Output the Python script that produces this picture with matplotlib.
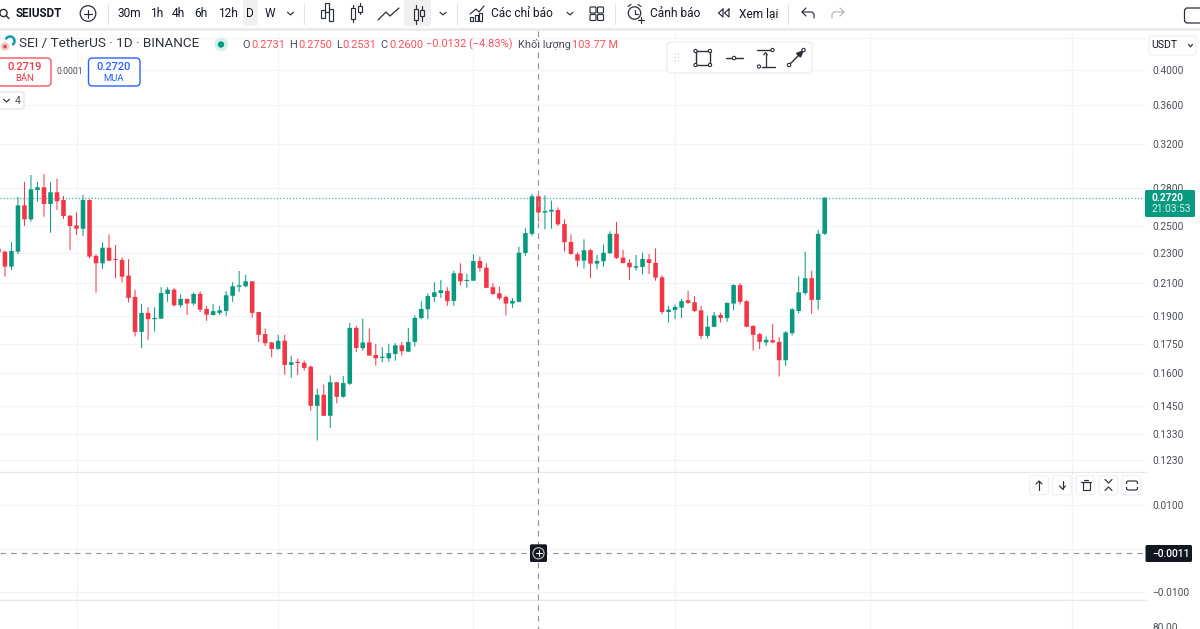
"""
SEIUSDT 1D candle chart, TradingView screen layout
"""
import numpy as np
import matplotlib
matplotlib.use("Agg")
import matplotlib.pyplot as plt
from matplotlib.patches import Circle, FancyBboxPatch, Rectangle, Arc
from matplotlib.ticker import NullLocator, FixedLocator, FixedFormatter

plt.rcParams["font.family"] = ["Roboto", "DejaVu Sans"]

# ---------- data ----------
opens = [.2331, .2310, .2208, .2310, .2657, .2547, .2783, .2806, .2668, .2764, .2700, .2575, .2501, .2476, .2700, .2281,
         .2230, .2338, .2260, .2253, .2149, .2015, .1813, .1920, .1884, .1887, .2033, .2060, .1965, .2003, .1975, .2033,
         .1943, .1908, .1920, .1931, .2022, .2078, .2081, .2112, .1925, .1801, .1756, .1722, .1765, .1641, .1656, .1651,
         .1632, .1450, .1499, .1407, .1557, .1490, .1550, .1835, .1726, .1756, .1691, .1676, .1674, .1696, .1741, .1708,
         .1759, .1890, .1941, .2015, .2039, .2052, .1991, .2164, .2114, .2116, .2246, .2201, .2075, .2037, .2015, .1975,
         .1985, .2301, .2438, .2731, .2600, .2607, .2620, .2511, .2379, .2292, .2248, .2320, .2228, .2244, .2299, .2438,
         .2269, .2234, .2201, .2206, .2258, .2234, .2138, .1925, .1937, .1951, .1995, .1983, .1935, .1791, .1841, .1908,
         .1890, .1975, .2088, .1989, .1846, .1801, .1756, .1768, .1759, .1664, .1806, .1931, .2039, .2132, .1997, .2438]
highs = [.2338, .2315, .2377, .2727, .2853, .2912, .2853, .2920, .2848, .2882, .2733, .2581, .2602, .2741, .2706, .2292,
         .2377, .2434, .2357, .2271, .2258, .2058, .1973, .1953, .1953, .2075, .2075, .2069, .2031, .2003, .2041, .2050,
         .1961, .1973, .1961, .2050, .2106, .2179, .2153, .2114, .1925, .1831, .1759, .1797, .1796, .1687, .1671, .1662,
         .1637, .1527, .1546, .1589, .1557, .1587, .1862, .1846, .1887, .1831, .1749, .1731, .1749, .1752, .1759, .1833,
         .1905, .1989, .2037, .2106, .2121, .2075, .2181, .2230, .2160, .2292, .2276, .2230, .2100, .2078, .2023, .2009,
         .2345, .2479, .2750, .2750, .2739, .2695, .2641, .2547, .2434, .2306, .2398, .2331, .2287, .2362, .2456, .2527,
         .2322, .2258, .2287, .2303, .2294, .2333, .2151, .1961, .1969, .2003, .2052, .2020, .1961, .1903, .1925, .1921,
         .1981, .2094, .2100, .1995, .1850, .1806, .1788, .1858, .1784, .1817, .1947, .2144, .2310, .2181, .2466, .2720]
lows = [.2300, .2142, .2186, .2294, .2496, .2529, .2686, .2568, .2446, .2620, .2550, .2322, .2429, .2422, .2264, .2041,
        .2193, .2246, .2132, .2106, .1981, .1788, .1726, .1770, .1815, .1885, .1985, .1957, .1951, .1908, .1963, .1925,
        .1874, .1905, .1908, .1903, .1985, .2045, .2075, .1893, .1758, .1738, .1680, .1717, .1592, .1578, .1592, .1613,
        .1429, .1306, .1407, .1356, .1461, .1486, .1545, .1705, .1712, .1687, .1637, .1654, .1657, .1662, .1688, .1706,
        .1734, .1884, .1884, .1985, .2009, .1961, .1961, .2087, .2071, .2114, .2175, .2069, .2027, .1995, .1905, .1949,
        .1983, .2281, .2424, .2531, .2471, .2476, .2496, .2310, .2289, .2208, .2195, .2132, .2190, .2208, .2297, .2260,
        .2230, .2121, .2181, .2156, .2160, .2116, .1914, .1865, .1884, .1891, .1973, .1925, .1774, .1777, .1839, .1865,
        .1869, .1935, .1969, .1839, .1713, .1721, .1738, .1752, .1584, .1636, .1793, .1916, .2025, .1914, .1939, .2430]
closes = [.2306, .2208, .2315, .2657, .2547, .2789, .2806, .2668, .2764, .2690, .2573, .2496, .2476, .2700, .2276, .2230,
          .2338, .2248, .2253, .2142, .2009, .1813, .1920, .1884, .1891, .2039, .2060, .1965, .2003, .1975, .2033, .1939,
          .1910, .1930, .1935, .2025, .2081, .2087, .2112, .1920, .1797, .1752, .1722, .1765, .1641, .1654, .1650, .1626,
          .1450, .1499, .1407, .1557, .1490, .1553, .1835, .1727, .1756, .1688, .1674, .1681, .1700, .1741, .1710, .1759,
          .1891, .1943, .2020, .2043, .2056, .1989, .2164, .2112, .2121, .2246, .2199, .2071, .2033, .2006, .1975, .1991,
          .2303, .2443, .2731, .2600, .2612, .2622, .2509, .2377, .2294, .2248, .2320, .2228, .2246, .2303, .2438, .2267,
          .2232, .2204, .2211, .2260, .2232, .2136, .1925, .1939, .1955, .1989, .1979, .1931, .1791, .1841, .1905, .1890,
          .1979, .2088, .1985, .1841, .1797, .1759, .1770, .1756, .1664, .1810, .1941, .2043, .2132, .1997, .2438, .2720]

price_ticks = [0.44, 0.40, 0.36, 0.32, 0.28, 0.25, 0.23, 0.21, 0.19, 0.175, 0.16, 0.145, 0.133, 0.123]
price_labels = ["", "0.4000", "0.3600", "0.3200", "0.2800", "0.2500", "0.2300", "0.2100", "0.1900", "0.1750",
                "0.1600", "0.1450", "0.1330", "0.1230"]
osc_ticks = [0.01, 0.0, -0.01]
osc_labels = ["0.0100", "", "−0.0100"]
month_bars = [12, 43, 73, 104, 134, 165]
last_price = 0.2720
osc_cursor = -0.0011
cross_bar = 83

# ---------- colours ----------
GREEN = "#089981"
RED = "#F23645"
GRID = "#F3F4F8"
SEP = "#E6E8EE"
TEXT = "#131722"
AXIS_TEXT = "#4A4E59"
ICON = "#2A2E39"

W, H = 1200, 629
BAR_STEP = 6.506
BAR_X0 = -1.56
PLOT_RIGHT = 1146
MAIN_TOP, MAIN_BOTTOM = 32, 471
OSC_BOTTOM = 599

fig = plt.figure(figsize=(W / 100, H / 100), dpi=100, facecolor="white")


def pane(top, bottom):
    a = fig.add_axes([0, 1 - bottom / H, PLOT_RIGHT / W, (bottom - top) / H])
    a.set_xlim(-BAR_X0 / BAR_STEP, (PLOT_RIGHT - BAR_X0) / BAR_STEP)
    a.yaxis.tick_right()
    a.tick_params(axis="y", length=0, pad=4.4, labelsize=7.3, labelcolor=AXIS_TEXT)
    a.tick_params(axis="x", length=0, labelbottom=False)
    for s in a.spines.values():
        s.set_visible(False)
    a.set_xticks(month_bars)
    a.grid(True, color=GRID, linewidth=0.9)
    a.set_axisbelow(True)
    return a


def price_at(y):
    # 对数坐标：0.28 在 y=188，每个 ln 单位 331 像素
    return 0.28 * np.exp((188 - y) / 331)


# ---------- main pane ----------
ax = pane(MAIN_TOP, MAIN_BOTTOM)
ax.set_yscale("log")
ax.set_ylim(price_at(MAIN_BOTTOM), price_at(MAIN_TOP))
ax.yaxis.set_major_locator(FixedLocator(price_ticks))
ax.yaxis.set_major_formatter(FixedFormatter(price_labels))
ax.yaxis.set_minor_locator(NullLocator())

idx = np.arange(len(opens))
o, h, l, c = map(np.array, (opens, highs, lows, closes))
colors = [GREEN if c_ >= o_ else RED for o_, c_ in zip(o, c)]
wicks = ax.vlines(idx, l, h, colors=colors, linewidth=0.72, zorder=3)
wicks.set_snap(False)
bodies = ax.bar(idx, np.maximum(np.abs(c - o), 0.0006), bottom=np.minimum(o, c), width=0.7, color=colors,
                linewidth=0, zorder=4)
for b in bodies:
    b.set_snap(False)
ax.axhline(last_price, color=GREEN, linewidth=0.9, linestyle=(0, (1, 1.6)), alpha=0.75, zorder=2)

# ---------- oscillator pane ----------
ax2 = pane(MAIN_BOTTOM, OSC_BOTTOM)
ax2.set_ylim((548.5 - OSC_BOTTOM) / 4350, (548.5 - MAIN_BOTTOM) / 4350)
ax2.set_yticks(osc_ticks, osc_labels)
ax2.axhline(osc_cursor, color="#9598A1", linewidth=0.9, linestyle=(0, (4.5, 4)), zorder=3)

# ---------- third pane, only the top of it is visible ----------
ax3 = pane(OSC_BOTTOM, H)
ax3.set_ylim(78.57, 100)
ax3.set_yticks([80], ["80.00"])
ax3.grid(False, axis="y")

# ---------- screen overlay in pixel coordinates ----------
ov = fig.add_axes([0, 0, 1, 1], zorder=10)
ov.set_xlim(0, W)
ov.set_ylim(H, 0)
ov.axis("off")
ov.patch.set_alpha(0)


def txt(x, y, s, size=8.6, color=TEXT, ha="left", weight="normal", z=20):
    ov.text(x, y, s, fontsize=size, color=color, ha=ha, va="center", weight=weight, zorder=z)


def line(xs, ys, color=ICON, lw=0.85, z=20, **kw):
    ov.plot(xs, ys, color=color, linewidth=lw, zorder=z, solid_capstyle="round", **kw)


def box(x0, y0, x1, y1, fc="white", ec="none", lw=0.9, r=2.5, z=15):
    ov.add_patch(FancyBboxPatch((x0 + r, y0 + r), x1 - x0 - 2 * r, y1 - y0 - 2 * r,
                                boxstyle=f"round,pad={r}", fc=fc, ec=ec, lw=lw, zorder=z))


def rect(x0, y0, x1, y1, fc="none", ec=ICON, lw=0.85, z=20):
    ov.add_patch(Rectangle((x0, y0), x1 - x0, y1 - y0, fc=fc, ec=ec, lw=lw, zorder=z))


def chevron(x, y, s=3.0, color=ICON, lw=0.85):
    line([x - s, x, x + s], [y - 1.2, y + 1.4, y - 1.2], color=color, lw=lw)


def ring(x, y, r, fc="none", ec=ICON, lw=0.9, z=20):
    ov.add_patch(Circle((x, y), r, fc=fc, ec=ec, lw=lw, zorder=z))


# crosshair
cross_x = BAR_X0 + BAR_STEP * cross_bar + 0.05
ov.plot([cross_x, cross_x], [31, H], color="#9598A1", linewidth=0.9, linestyle=(0, (4.5, 4)), zorder=6)

# toolbar background
ov.add_patch(Rectangle((0, 0), W, 28, fc="white", ec="none", zorder=7))
ov.add_patch(Rectangle((0, 28), W, 3.2, fc="#ECECEC", ec="none", zorder=7))
box(243, -4, 258, 26, fc="#F0F0F0", r=3, z=8)
box(404, -4, 431, 26.5, fc="#F0F0F0", r=4, z=8)

ring(3.5, 13, 3.6, ec=ICON, lw=1.0)
line([6.2, 9.0], [15.8, 18.6], lw=1.0)
txt(16, 13.5, "SEIUSDT", size=8.4, weight="bold")
ring(88, 13.5, 7.8, lw=0.9)
line([84, 92], [13.5, 13.5])
line([88, 88], [9.5, 17.5])
for x in (107.5, 304, 456.5, 615, 788):
    line([x, x], [4, 24], color="#E0E3EB", lw=0.8)
for x, s in ((117, "30m"), (150, "1h"), (172, "4h"), (194, "6h"), (218, "12h"), (246, "D"), (265, "W")):
    txt(x, 13.5, s, size=8.6)
chevron(290.5, 13.5)
# candle type icons
rect(321, 10, 325, 18)
rect(325, 3, 329, 12)
rect(329, 9, 333, 21)
rect(350.5, 8, 354.5, 19)
line([352.5, 352.5], [5, 8])
line([352.5, 352.5], [19, 22])
rect(358, 6, 362, 12)
line([360, 360], [3, 6])
line([360, 360], [12, 14])
line([378, 386, 390, 399], [20, 12, 16, 8], lw=0.9)
rect(413.5, 9, 417.5, 20)
line([415.5, 415.5], [5, 9])
line([415.5, 415.5], [20, 24])
rect(420, 10, 424, 16)
line([422, 422], [6, 10])
line([422, 422], [16, 21])
chevron(443, 13.5)
# indicators
line([470, 476, 479, 484], [14, 9, 12, 6], lw=0.85)
rect(470, 17, 473, 21)
rect(474.5, 15, 477.5, 21)
rect(479, 13, 482, 21)
txt(491, 13.5, "Các chỉ báo", size=8.6)
chevron(570, 13.5)
for gx, gy in ((590, 7), (597.5, 7), (590, 14.5), (597.5, 14.5)):
    ov.add_patch(FancyBboxPatch((gx + 1, gy + 1), 4, 4, boxstyle="round,pad=1", fc="none", ec=ICON, lw=0.85,
                                zorder=20))
# alarm
ring(634.5, 13, 6.2)
line([634.5, 634.5, 637.5], [9.5, 13.5, 13.5])
line([628, 631], [6.5, 4.5])
line([638, 641], [4.5, 6.5])
line([637.5, 643.5], [19.5, 19.5], color=ICON)
line([640.5, 640.5], [16.5, 22.5], color=ICON)
txt(650, 13.5, "Cảnh báo", size=8.6)
line([723, 718.5, 723, 723], [9, 13, 17, 9])
line([729, 724.5, 729, 729], [9, 13, 17, 9])
txt(739, 13.5, "Xem lại", size=8.6)
# undo / redo
line([802, 812, 814, 814], [12, 12, 14, 18])
line([806, 802, 806], [8, 12, 16])
line([844, 834, 832, 832], [12, 12, 14, 18], color="#B2B5BE")
line([840, 844, 840], [8, 12, 16], color="#B2B5BE")
box(1184.5, 8, 1204, 23, fc="white", ec=ICON, lw=0.9, r=3)

# legend row
ring(5, 46.5, 4.2, fc="#F6C9BD", ec="none", z=21)
ring(5, 46.5, 1.8, fc="#D8465A", ec="none", z=22)
ov.add_patch(Arc((10, 41), 9, 9, theta1=200, theta2=60, ec="#0F9CA8", lw=1.8, zorder=21))
txt(19, 44, "SEI / TetherUS · 1D · BINANCE", size=9.7, color="#2E323D")
ring(221, 44.5, 6.8, fc="#D8F0EA", ec="none")
ring(221, 44.5, 3.2, fc=GREEN, ec="none", z=21)
LEG = "#F7525F"
for x, s, col in ((242.5, "O", AXIS_TEXT), (251.5, "0.2731", LEG), (289, "H", AXIS_TEXT), (298, "0.2750", LEG),
                  (336, "L", AXIS_TEXT), (342.5, "0.2531", LEG), (380.5, "C", AXIS_TEXT), (389, "0.2600", LEG),
                  (426.5, "−0.0132 (−4.83%)", LEG), (517.5, "Khối lượng", AXIS_TEXT), (571.5, "103.77 M", LEG)):
    txt(x, 44.5, s, size=7.9, color=col)

# buy / sell buttons
box(-2, 58, 51, 86, ec="#F7525F", lw=1.0, r=4)
txt(25, 66.5, "0.2719", size=7.9, color=RED, ha="center", weight="medium")
txt(25, 78.5, "BÁN", size=6.8, color=RED, ha="center")
txt(70, 72, "0.0001", size=6.2, color=AXIS_TEXT, ha="center")
box(88.5, 58, 140, 86, ec="#2962FF", lw=1.0, r=4)
txt(114, 66.5, "0.2720", size=7.9, color="#2962FF", ha="center", weight="medium")
txt(114, 78.5, "MUA", size=6.8, color="#2962FF", ha="center")
box(-3, 92, 24, 109, ec="#E0E3EB", lw=0.9, r=2.5)
chevron(6.5, 100.5, s=3)
txt(14.5, 100.5, "4", size=7.6, color=AXIS_TEXT)

# floating drawing toolbar
box(667, 42, 812, 73, ec="#ECEDF1", lw=0.9, r=4, z=12)
for gx in (675.2, 678.4):
    for gy in (54, 57.5, 61):
        ring(gx, gy, 0.55, fc="#B2B5BE", ec="none")
rect(695.5, 51, 710, 65, lw=1.0)
for cx, cy in ((695.5, 51), (710, 51), (695.5, 65), (710, 65)):
    ring(cx, cy, 1.6, fc="white", ec=ICON, lw=0.8, z=21)
line([726, 742.5], [58, 58], lw=1.0)
ring(734, 58, 1.7, fc="white", ec=ICON, lw=0.8, z=21)
line([757, 771], [50, 50], lw=1.0)
line([762, 775], [66.5, 66.5], lw=1.0)
line([765.5, 765.5], [53, 66], lw=0.9)
line([763.7, 765.5, 767.3], [55, 52.5, 55], lw=0.8)
ring(772.5, 50, 1.6, fc="white", ec=ICON, lw=0.8, z=21)
ring(759, 66.5, 1.6, fc="white", ec=ICON, lw=0.8, z=21)
line([789.5, 803], [64.5, 51], lw=1.0)
ov.fill([803, 796.5, 800.5], [51, 53.5, 57], color=ICON, zorder=20)
ring(789, 65, 1.7, fc="white", ec=ICON, lw=0.8, z=21)
ring(803.5, 50, 1.7, fc="white", ec=ICON, lw=0.8, z=21)

# currency box and price labels
box(1149, 36, 1196, 55, ec="#EFF0F3", lw=0.9, r=2.5, z=15)
txt(1151.5, 45.5, "USDT", size=7.6)
chevron(1190.5, 45.5, s=2.0)
box(1145, 190, 1195, 217, fc=GREEN, r=1.5)
txt(1152, 198, "0.2720", size=7.3, color="white", weight="bold")
txt(1152, 209.5, "21:03:53", size=7.4, color="#D5F0EA")
box(1145.5, 545, 1192, 562, fc=TEXT, r=1.5)
txt(1152, 553.7, "−0.0011", size=7.4, color="white", weight="medium")

# pane separators
ov.plot([0, PLOT_RIGHT], [471.5, 471.5], color=SEP, linewidth=1.0, zorder=5)
ov.plot([0, PLOT_RIGHT], [599.5, 599.5], color=SEP, linewidth=1.0, zorder=5)

# pane buttons
for x0, x1 in ((1029.5, 1048.5), (1052.5, 1071.5), (1076, 1094.5), (1099, 1118), (1122, 1141)):
    box(x0, 475.7, x1, 494.7, ec="#EEF0F4", lw=0.9, r=2.5)
line([1039, 1039], [481, 489.5])
line([1036, 1039, 1042], [484, 481, 484])
line([1062.5, 1062.5], [480.5, 489])
line([1059.5, 1062.5, 1065.5], [486, 489, 486])
rect(1082.5, 482, 1089.5, 490, lw=0.85)
line([1081, 1091], [481.5, 481.5])
line([1084, 1088], [479.5, 479.5])
line([1105, 1108.5, 1112], [479.5, 483, 479.5])
line([1105, 1108.5, 1112], [490.5, 487, 490.5])
box(1126.5, 481, 1137.5, 490, fc="none", ec=ICON, lw=0.85, r=2, z=20)
ov.add_patch(Rectangle((1125, 484), 14, 2.5, fc="white", ec="none", zorder=21))

# crosshair centre button
box(530, 544.3, 547, 562, fc=TEXT, r=1.5, z=16)
ring(538.5, 553.3, 5.6, ec="#C8CAD0", lw=0.8)
line([535.5, 541.5], [553.3, 553.3], color="white", lw=0.8)
line([538.5, 538.5], [550.3, 556.3], color="white", lw=0.8)

fig.savefig("out.png", dpi=100)
